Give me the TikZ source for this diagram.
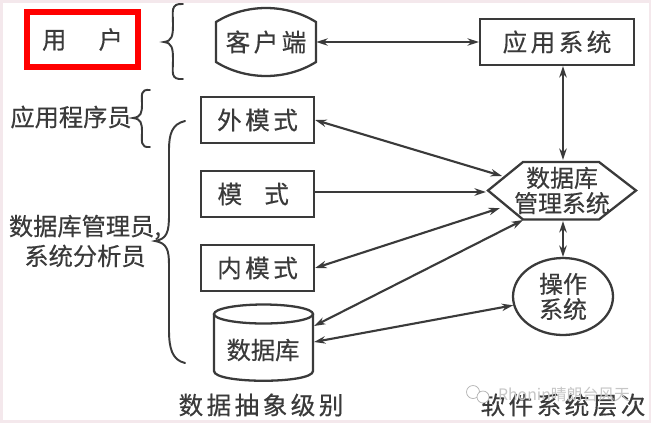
\documentclass[tikz,border=0pt]{standalone}
\usepackage{xcolor}
\usepackage{fontspec}
\usepackage{tikz}
\usetikzlibrary{arrows.meta, shapes}
\setmainfont[FakeBold=0.4]{Noto Sans CJK SC}
\newfontfamily\widecjk[LetterSpace=14, FakeBold=0.4]{Noto Sans CJK SC}
\newfontfamily\markfont{Noto Sans CJK SC}
\definecolor{inkgray}{RGB}{58, 58, 58}
\definecolor{edgepink}{RGB}{244, 232, 236}
\definecolor{markred}{RGB}{255, 0, 0}

\begin{document}
\begin{tikzpicture}[x=0.02cm, y=-0.02cm, >={Stealth[length=6.5pt, width=4.2pt]},
    label/.style={inkgray, font=\fontsize{13.8}{17}\selectfont, align=center, inner sep=0pt},
    tightlabel/.style={inkgray, font=\fontsize{13.6}{14.4}\selectfont, align=center, inner sep=0pt},
    widelabel/.style={inkgray, font=\fontsize{14}{17}\widecjk, align=center, inner sep=0pt},
    framed/.style={draw=inkgray, line width=1.3pt, minimum width=2.26cm, minimum height=0.92cm},
    outline/.style={draw=inkgray, line width=1.3pt},
    link/.style={<->, draw=inkgray, line width=1.2pt},
    curly/.style={draw=inkgray, line width=1.1pt, line cap=round}]
    \useasboundingbox (0,0) rectangle (651,423);

    % 背景
    \fill[edgepink] (0,0) rectangle (651,423);
    \fill[white] (3,3) rectangle (649,420);

    % 用户
    \node[label, draw=markred, line width=3.4pt, minimum width=2.22cm, minimum height=1.1cm] (user) at (82.5,39.5) {用\hspace{1.33em}户};
    \node[label] (appdev) at (71,117) {应用程序员};
    \node[label] (dba) at (85,241) {数据库管理员,\\系统分析员};

    % 大括号
    \draw[curly] (183,4) .. controls (170,3) and (173,12) .. (173,24) .. controls (173,36) and (172,41) .. (164,42)
        .. controls (172,43) and (173,48) .. (173,60) .. controls (173,72) and (170,80) .. (183,79);
    \draw[curly] (150,90) .. controls (140,89) and (142,95) .. (142,104) .. controls (142,113) and (141,117) .. (133,118)
        .. controls (141,119) and (142,123) .. (142,132) .. controls (142,141) and (140,148) .. (150,147);
    \draw[curly] (185,121) .. controls (172,124) and (169,134) .. (169,150) -- (169,215) .. controls (169,232) and (167,239) .. (155,241)
        .. controls (167,243) and (169,250) .. (169,265) -- (169,330) .. controls (169,348) and (172,360) .. (185,363);

    % 客户端
    \draw[outline] (216,22) .. controls (232,12) and (250,8) .. (266,8) .. controls (282,8) and (300,12) .. (316,22)
        -- (316,62) .. controls (300,72) and (282,76) .. (266,76) .. controls (250,76) and (232,72) .. (216,62) -- cycle;
    \node[widelabel, minimum width=2cm, minimum height=1.36cm] (client) at (266,42) {客户端};

    % 三级模式
    \node[widelabel, framed] (outer) at (257.5,120) {外模式};
    \node[widelabel, framed] (schema) at (257.5,194) {模\hspace{0.9em}式\hspace{0.35em}};
    \node[widelabel, framed] (inner) at (257.5,268) {内模式};

    % 数据库
    \draw[outline] (214,314) -- (214,371) .. controls (214,384) and (313,384) .. (313,371) -- (313,314);
    \draw[outline] (263.5,314) ellipse[x radius=49.5, y radius=9.5];
    \node[label] (db) at (263,350) {数据库};

    % 右侧
    \node[widelabel, framed, minimum width=3.08cm] (appsys) at (557,42) {应用系统};
    \draw[outline, line join=miter] (488,190.5) -- (523,162) -- (599,162) -- (636,190.5) -- (599,219.5) -- (523,219.5) -- cycle;
    \node[tightlabel] (dbms) at (562,190.5) {数据库\\管理系统};
    \node[tightlabel, draw=inkgray, line width=1.3pt, ellipse, minimum width=2cm, minimum height=1.54cm] (os) at (563,296.5) {操作\\系统};

    % 连线的端点
    \coordinate (dbmsa) at (502,176);
    \coordinate (dbmsb) at (500,208);
    \coordinate (dbmsc) at (523,220);
    \coordinate (dbmsd) at (486,192);
    \coordinate (appport) at (563,66);
    \coordinate (dbmstop) at (563,160);
    \coordinate (dbmsbot) at (563,221);
    \coordinate (ostop) at (563,257);
    \coordinate (dbporta) at (314,326);
    \coordinate (dbportb) at (314,342);

    \draw[link] (client.east) -- (appsys.west);
    \draw[link] (appport) -- (dbmstop);
    \draw[link] (outer.east) -- (dbmsa);
    \draw[->, draw=inkgray, line width=1.2pt] (schema.east |- dbmsd) -- (dbmsd);
    \draw[link] (inner.east) -- (dbmsb);
    \draw[link] (dbporta) -- (dbmsc);
    \draw[link] (dbportb) -- (os.190);
    \draw[link] (dbmsbot) -- (ostop);

    % 底部文字
    \node[widelabel] (datalevel) at (261,405) {数据抽象级别};
    \node[widelabel] (softlevel) at (563,405) {软件系统层次};

    % 水印
    \draw[gray!60, fill=white] (473,392) circle (6.5);
    \draw[gray!60, fill=white] (483,397) circle (6);
    \node[gray!45, font=\fontsize{9}{11}\markfont, inner sep=0pt] (mark) at (564,394) {Rhonin晴朗台风天};
\end{tikzpicture}
\end{document}
